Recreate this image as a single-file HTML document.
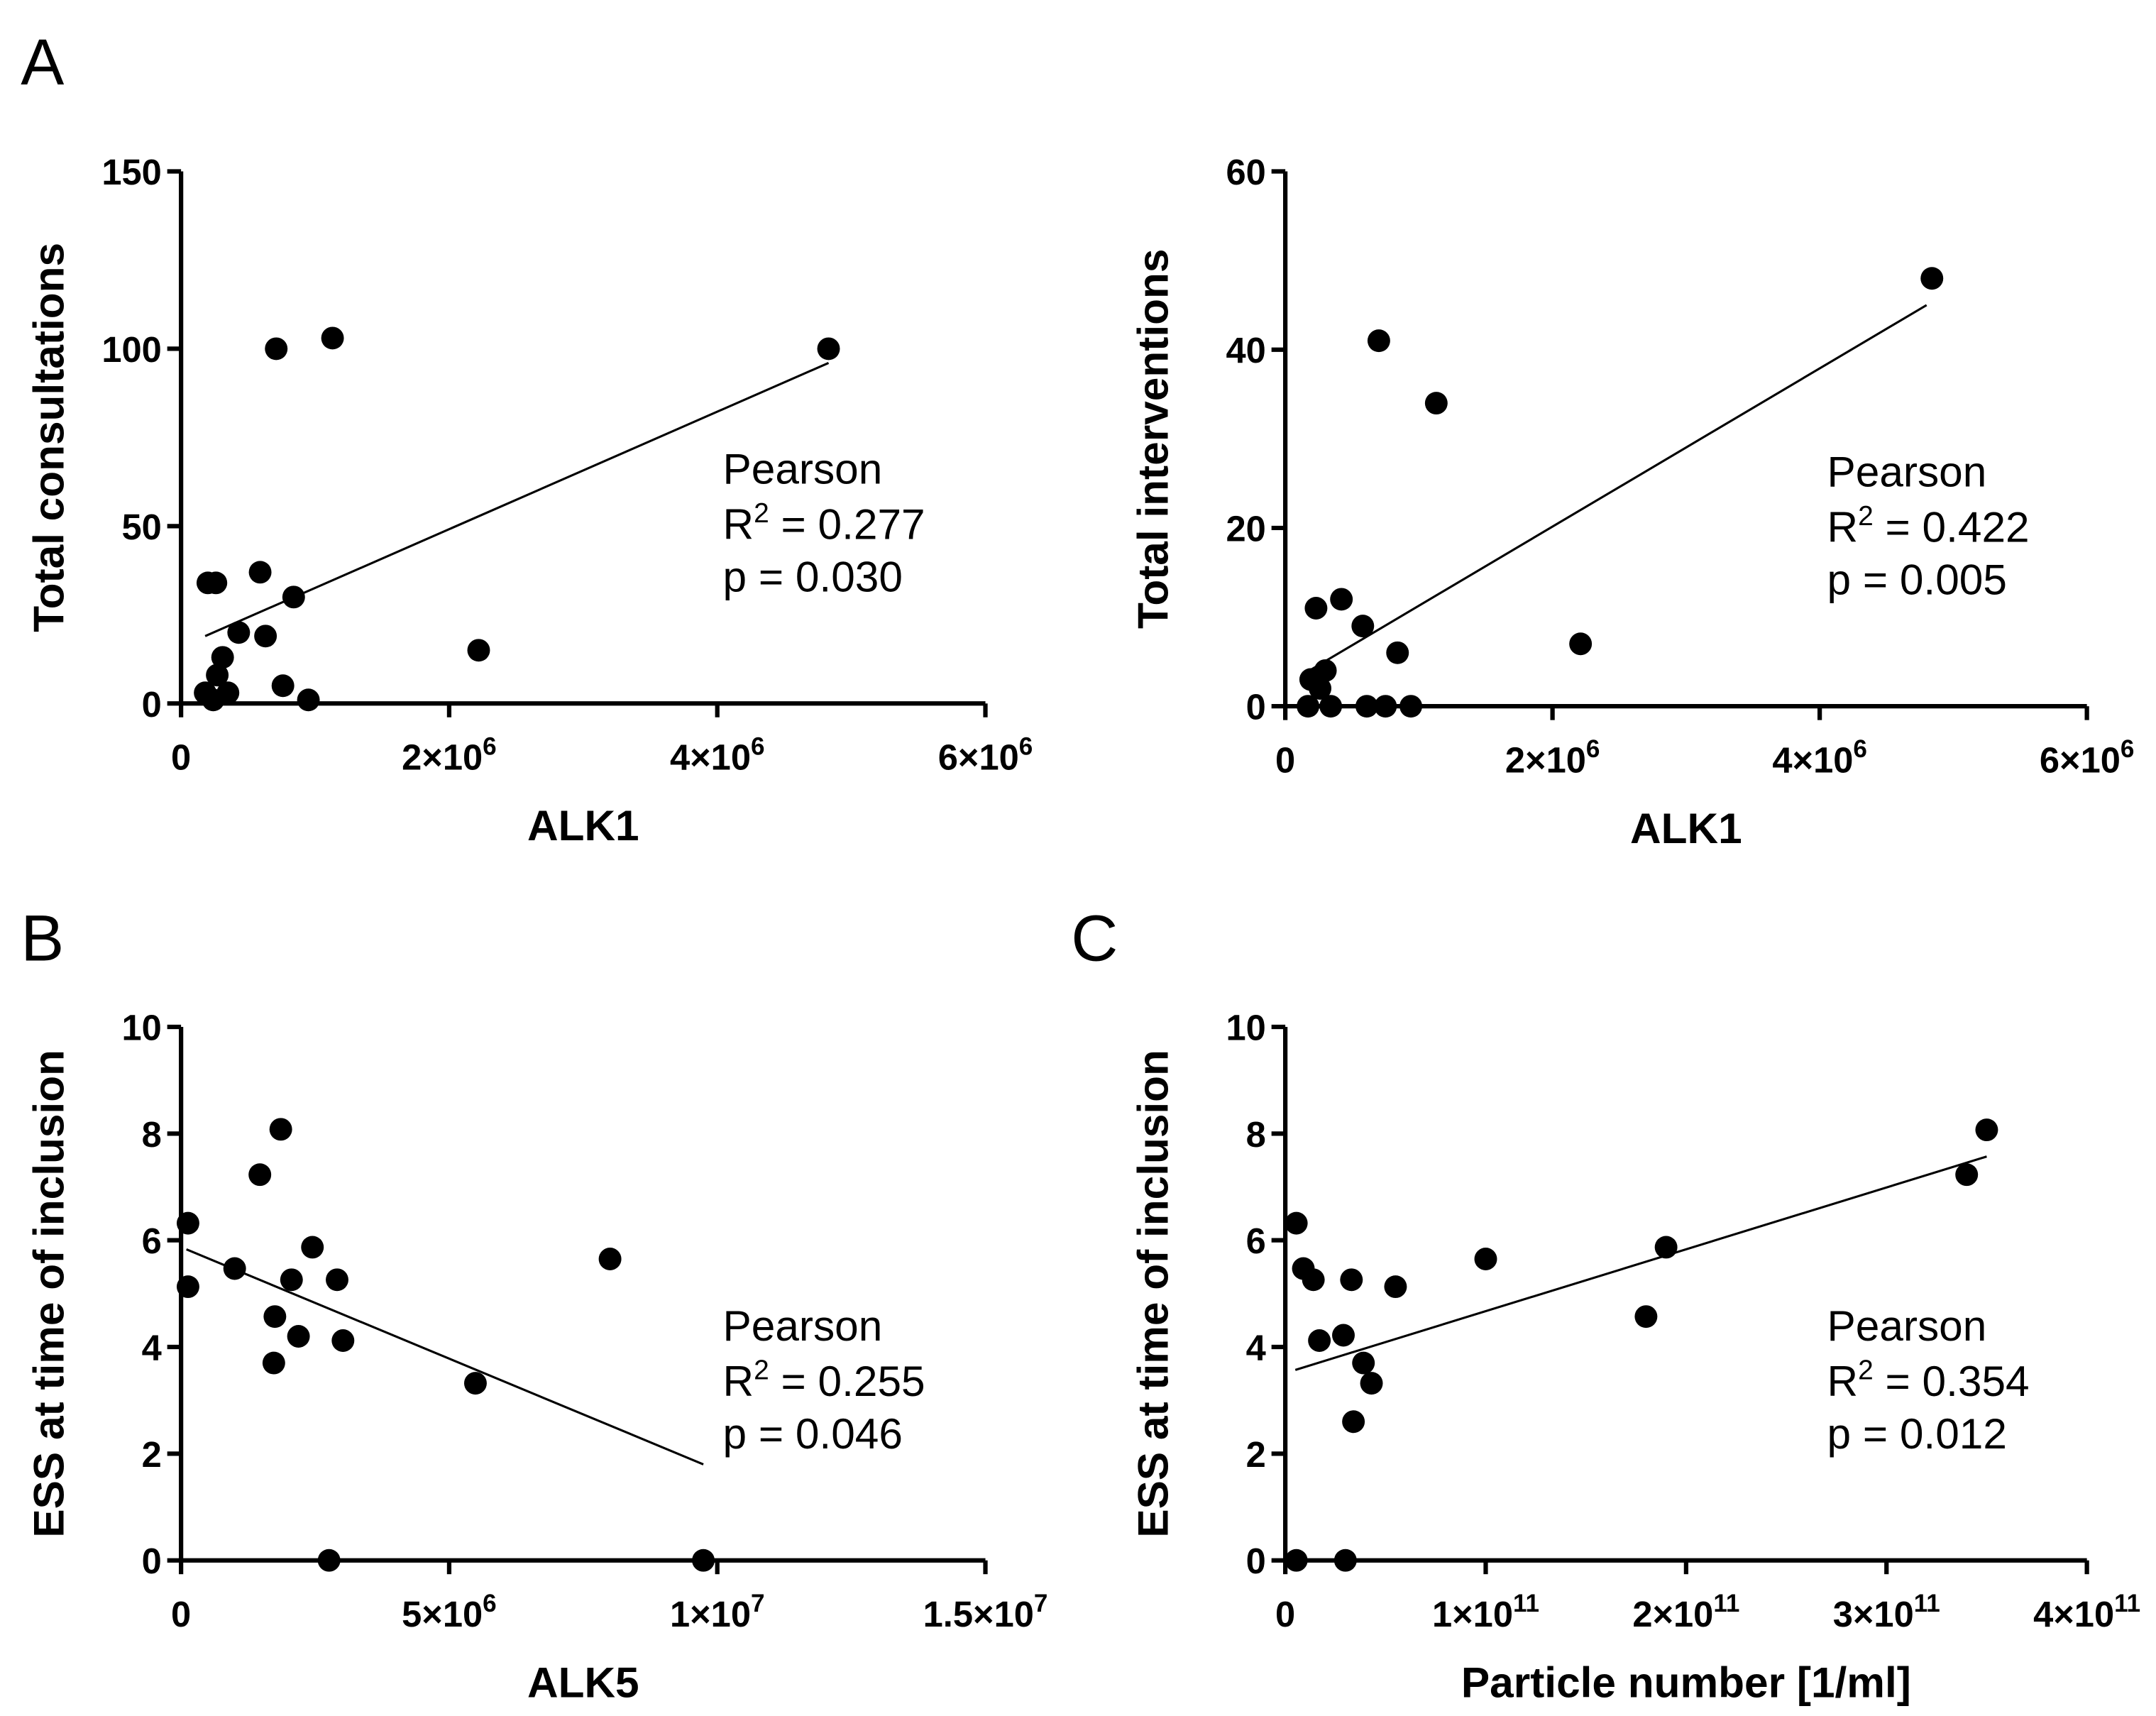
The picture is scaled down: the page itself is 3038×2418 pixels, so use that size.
<!DOCTYPE html>
<html><head><meta charset="utf-8">
<style>
html,body{margin:0;padding:0;background:#fff;}
svg{display:block;}
.tick{font-family:"Liberation Sans",sans-serif;font-weight:bold;font-size:26px;}
.title{font-family:"Liberation Sans",sans-serif;font-weight:bold;font-size:31px;}
.stat{font-family:"Liberation Sans",sans-serif;font-size:31px;}
.panel{font-family:"Liberation Sans",sans-serif;font-size:47px;}
</style></head>
<body>
<svg id="fig" width="3038" height="2418" viewBox="0 0 1560 1241.6" preserveAspectRatio="none">
<text x="15" y="61" class="panel">A</text>
<text x="15" y="695" class="panel">B</text>
<text x="775" y="695" class="panel">C</text>
</svg>
<script>
// Panel A1: ALK1 vs total consultations
const a1X = [4.83e6,1.13e6,0.71e6,2.22e6,0.2e6,0.26e6,0.59e6,0.84e6,0.43e6,0.63e6,0.31e6,0.27e6,0.18e6,0.35e6,0.76e6,0.95e6,0.24e6];
const a1Y = [100,103,100,15,34,34,37,30,20,19,13,8,3,3,5,1,1];
const a1Fit = [[0.18e6,19],[4.83e6,96]];
const a1XTicks = [0,2e6,4e6,6e6];
const a1XTickLabels = [["0",""],["2×10","6"],["4×10","6"],["6×10","6"]];
const a1YTicks = [0,50,100,150];
// Panel A2: ALK1 vs total interventions
const a2X = [4.84e6,0.7e6,1.13e6,2.21e6,0.42e6,0.23e6,0.58e6,0.84e6,0.3e6,0.19e6,0.26e6,0.17e6,0.34e6,0.61e6,0.75e6,0.94e6];
const a2Y = [48,41,34,7,12,11,9,6,4,3,2,0,0,0,0,0];
const a2Fit = [[0.18e6,4],[4.8e6,45]];
const a2YTicks = [0,20,40,60];
// Panel B: ALK5 vs ESS
const bX = [0.13e6,0.13e6,1.0e6,1.47e6,1.86e6,1.75e6,1.73e6,2.06e6,2.19e6,2.45e6,2.91e6,3.02e6,5.49e6,8.0e6,2.76e6,9.74e6];
const bY = [6.32,5.13,5.47,7.23,8.08,4.57,3.7,5.26,4.2,5.87,5.26,4.12,3.32,5.65,0,0];
const bFit = [[0.1e6,5.83],[9.74e6,1.8]];
const bXTicks = [0,5e6,1e7,1.5e7];
const bXTickLabels = [["0",""],["5×10","6"],["1×10","7"],["1.5×10","7"]];
const essYTicks = [0,2,4,6,8,10];
// Panel C: particle number vs ESS
const cX = [0.055e11,0.09e11,0.14e11,0.17e11,0.29e11,0.33e11,0.39e11,0.43e11,0.34e11,0.55e11,1.0e11,1.8e11,1.9e11,3.4e11,3.5e11,0.055e11,0.3e11];
const cY = [6.32,5.47,5.26,4.12,4.22,5.26,3.7,3.32,2.6,5.13,5.65,4.57,5.87,7.23,8.07,0,0];
const cFit = [[0.05e11,3.57],[3.5e11,7.57]];
const cXTicks = [0,1e11,2e11,3e11,4e11];
const cXTickLabels = [["0",""],["1×10","11"],["2×10","11"],["3×10","11"],["4×10","11"]];

const NS="http://www.w3.org/2000/svg";
const svg=document.getElementById('fig');
function mk(tag,attrs,parent){const e=document.createElementNS(NS,tag);for(const k in attrs)e.setAttribute(k,attrs[k]);(parent||svg).appendChild(e);return e;}

function panel(p){
  const g=mk('g',{});
  
  
  const xmax=p.xTicks[p.xTicks.length-1], ymax=p.yTicks[p.yTicks.length-1];
  const sx=v=>p.x0+(v/xmax)*(p.x1-p.x0);
  const sy=v=>p.y0-(v/ymax)*(p.y0-p.y1);
  const ax=mk('line',{x1:p.x0,y1:p.y0,x2:p.x1,y2:p.y0,stroke:'#000','stroke-width':3.2},g);
  
  
  const ay=mk('line',{x1:p.x0,y1:p.y0+1.5,x2:p.x0,y2:p.y1,stroke:'#000','stroke-width':3.2},g);
  
  
  p.xTicks.forEach((v,i)=>{
    const x=sx(v);
    mk('line',{x1:x,y1:p.y0,x2:x,y2:p.y0+10,stroke:'#000','stroke-width':3.2},g);
    const t=mk('text',{x:x,y:p.y0+48,'text-anchor':'middle',class:'tick'},g);
    
    
    t.textContent=p.xLabels[i][0];
    if(p.xLabels[i][1]){const s=mk('tspan',{dy:-11,'font-size':18},t);s.textContent=p.xLabels[i][1];}
  });
  p.yTicks.forEach(v=>{
    const y=sy(v);
    mk('line',{x1:p.x0-10,y1:y,x2:p.x0,y2:y,stroke:'#000','stroke-width':3.2},g);
    const t=mk('text',{x:p.x0-14,y:y+9.5,'text-anchor':'end',class:'tick'},g);
    
    
    t.textContent=String(v);
  });
  const fl=mk('line',{x1:sx(p.fit[0][0]),y1:sy(p.fit[0][1]),x2:sx(p.fit[1][0]),y2:sy(p.fit[1][1]),stroke:'#000','stroke-width':1.6},g);
  
  
  p.xs.forEach((v,i)=>{
    const c=mk('circle',{cx:sx(v),cy:sy(p.ys[i]),r:8.2,fill:'#000'},g);
    
    
  });
  const xt=mk('text',{x:(p.x0+p.x1)/2,y:p.y0+99,'text-anchor':'middle',class:'title'},g);
  
  
  xt.textContent=p.xTitle;
  const ycx=p.x0-85, ycy=(p.y0+p.y1)/2;
  const yt=mk('text',{x:ycx,y:ycy,'text-anchor':'middle',class:'title',transform:`rotate(-90 ${ycx} ${ycy})`},g);
  
  
  yt.textContent=p.yTitle;
  const sxp=p.x0+392;
  const st=mk('text',{x:sxp,y:p.statY,class:'stat'},g);
  
  
  const l1=mk('tspan',{x:sxp},st);l1.textContent='Pearson';
  const l2=mk('tspan',{x:sxp,dy:40},st);l2.textContent='R';
  const sup=mk('tspan',{dy:-12,'font-size':20},st);sup.textContent='2';
  const l2b=mk('tspan',{dy:12},st);l2b.textContent=' = '+p.r2;
  const l3=mk('tspan',{x:sxp,dy:38},st);l3.textContent='p = '+p.pv;
}
panel({name:'chart-a-consultations',x0:131,x1:713,y0:509,y1:124,xTicks:a1XTicks,xLabels:a1XTickLabels,yTicks:a1YTicks,xs:a1X,ys:a1Y,fit:a1Fit,xTitle:'ALK1',yTitle:'Total consultations',r2:'0.277',pv:'0.030',statY:350});
panel({name:'chart-a-interventions',x0:930,x1:1510,y0:511,y1:124,xTicks:a1XTicks,xLabels:a1XTickLabels,yTicks:a2YTicks,xs:a2X,ys:a2Y,fit:a2Fit,xTitle:'ALK1',yTitle:'Total interventions',r2:'0.422',pv:'0.005',statY:352});
panel({name:'chart-b-alk5',x0:131,x1:713,y0:1129,y1:743,xTicks:bXTicks,xLabels:bXTickLabels,yTicks:essYTicks,xs:bX,ys:bY,fit:bFit,xTitle:'ALK5',yTitle:'ESS at time of inclusion',r2:'0.255',pv:'0.046',statY:970});
panel({name:'chart-c-particles',x0:930,x1:1510,y0:1129,y1:743,xTicks:cXTicks,xLabels:cXTickLabels,yTicks:essYTicks,xs:cX,ys:cY,fit:cFit,xTitle:'Particle number [1/ml]',yTitle:'ESS at time of inclusion',r2:'0.354',pv:'0.012',statY:970});
</script>
</body></html>
